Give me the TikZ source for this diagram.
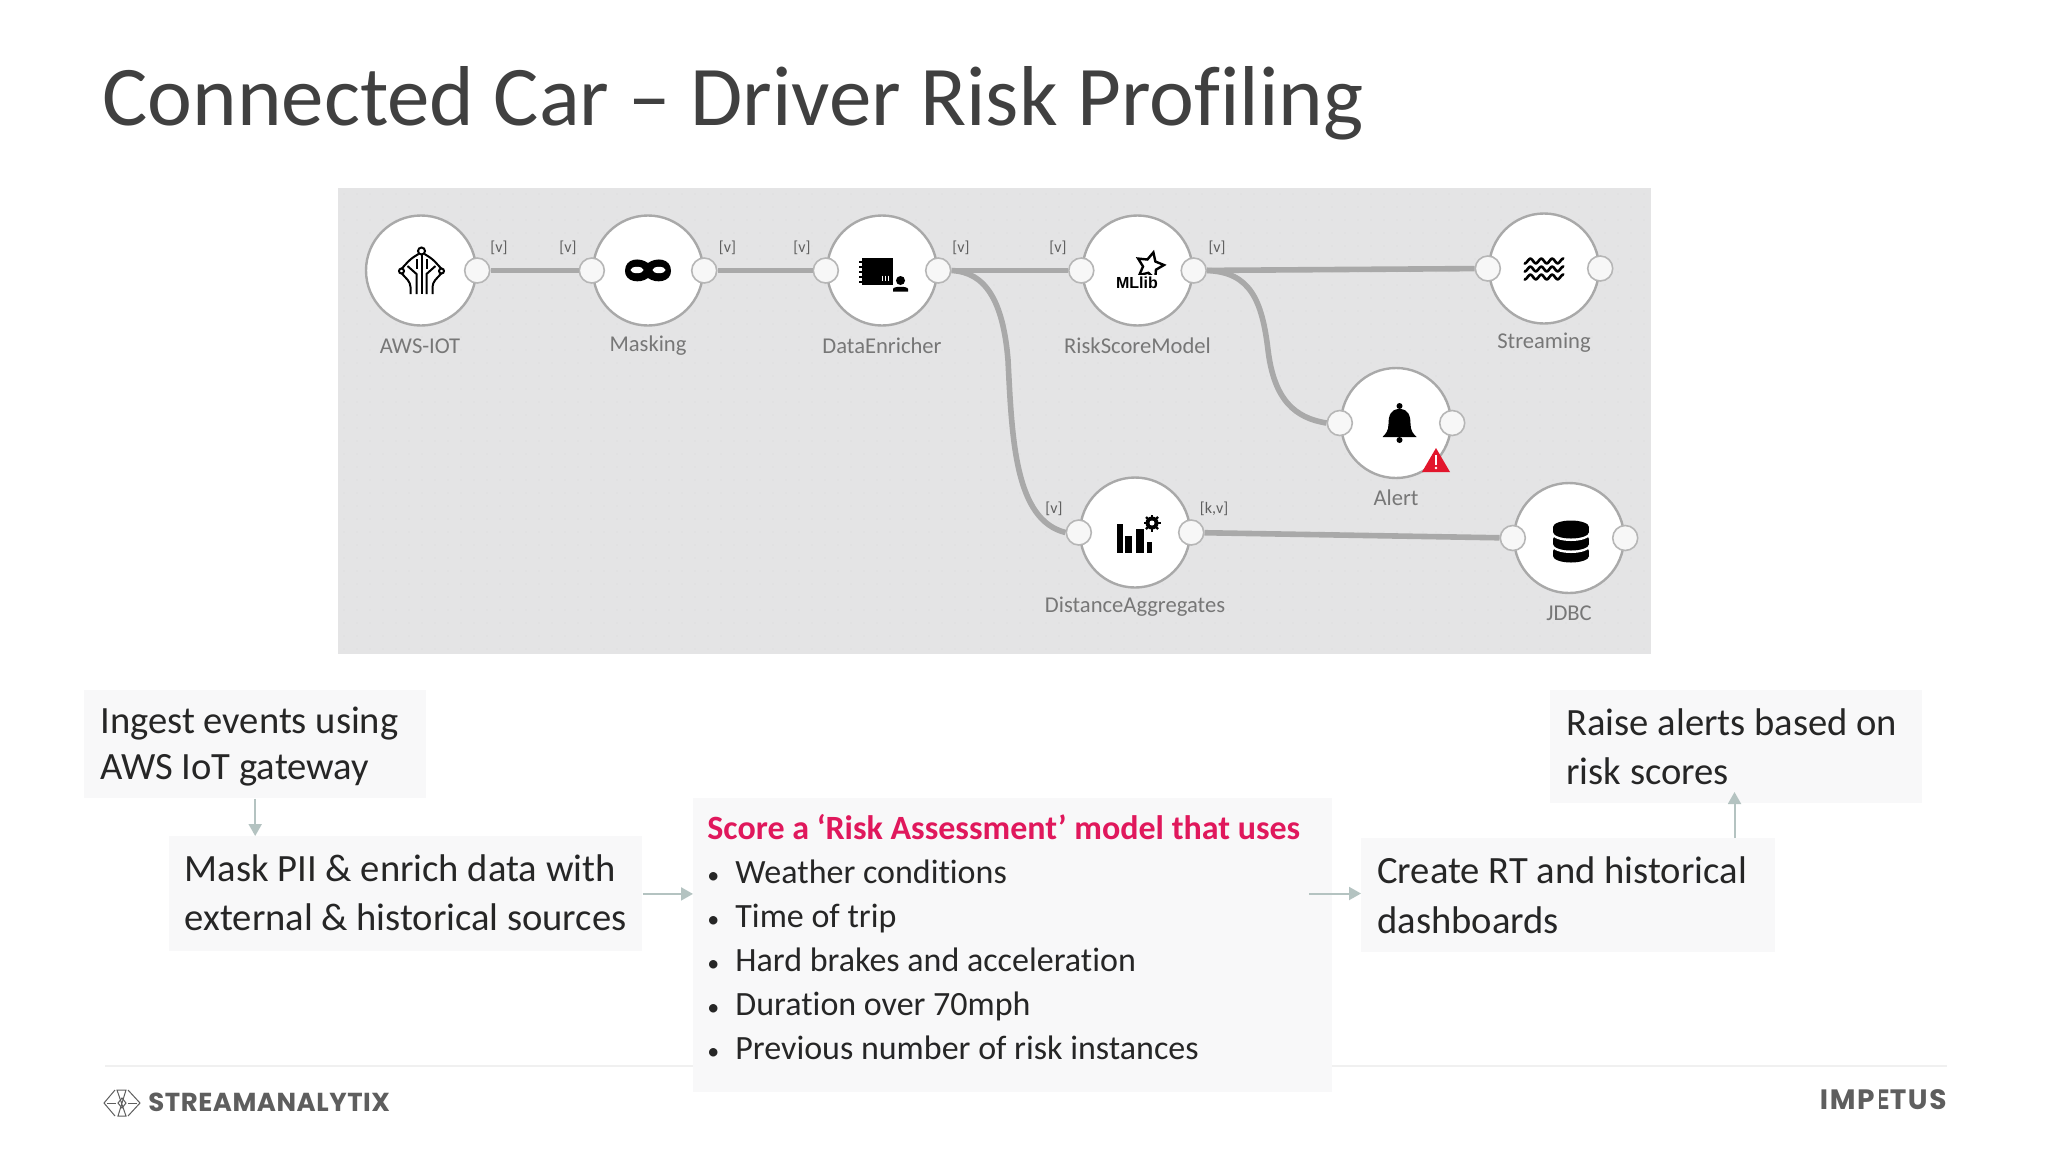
\documentclass[tikz,border=0pt]{standalone}
\usepackage{fontspec}
\usepackage{xcolor}
\usetikzlibrary{arrows.meta,shapes.geometric}
\setmainfont{Carlito}[Ligatures={TeX,NoCommon}]
\newfontfamily\logofont{Poppins}[LetterSpace=2]
\newfontfamily\impetusfont{Poppins}[LetterSpace=6]
\newfontfamily\iconfont{Liberation Sans}
\definecolor{titlegray}{HTML}{404040}
\definecolor{textgray}{HTML}{262626}
\definecolor{panelgray}{HTML}{E4E4E5}
\definecolor{panelspot}{HTML}{DEDEDF}
\definecolor{flowgray}{HTML}{A9A9A9}
\definecolor{labelgray}{HTML}{777777}
\definecolor{boxgray}{HTML}{F8F8F9}
\definecolor{linkgray}{HTML}{B4C3C1}
\definecolor{rulegray}{HTML}{F0F0F0}
\definecolor{scorepink}{HTML}{E0185C}
\definecolor{alertred}{HTML}{E2162C}
\definecolor{logogray}{HTML}{5E5E5E}
\newcommand{\barE}{\setbox0\hbox{E}\rlap{E}\textcolor{white}{\rule[-.5pt]{.3\wd0}{\dimexpr\ht0+1pt\relax}}\kern-.3\wd0\kern\wd0}
\newcommand{\bul}{\makebox[14pt][l]{\fontsize{12}{12}\selectfont •}}

\begin{document}
\begin{tikzpicture}[x=.5pt,y=-.5pt]
\tikzset{stepnode/.style={circle,draw=flowgray,fill=white,line width=1.2pt,minimum size=55pt,inner sep=0pt}}
\tikzset{port/.style={circle,draw=flowgray!85,fill=white!97!black,line width=.8pt,minimum size=12.5pt,inner sep=0pt}}
\tikzset{flow/.style={draw=flowgray,line width=2.8pt}}
\tikzset{steplabel/.style={text=labelgray,font=\fontsize{11.3}{13}\selectfont,inner sep=0pt}}
\tikzset{tag/.style={text=labelgray!80!black,font=\fontsize{8}{9}\selectfont,inner sep=0pt}}
\tikzset{box/.style={anchor=north west,fill=boxgray,text=textgray,align=flush left,inner xsep=8pt,inner ysep=0pt}}
\tikzset{link/.style={draw=linkgray,line width=1pt,-{Triangle[width=6.5pt,length=6pt]}}}

\useasboundingbox (0,0) rectangle (2048,1152);
\fill[white] (0,0) rectangle (2048,1152);

\node[anchor=base west,inner sep=0pt,text=titlegray,font=\fontsize{42.5}{46}\selectfont] (title) at (102,125.5) {Connected Car -- Driver Risk Profiling};

\fill[panelgray] (338,188) rectangle (1651,654);
\foreach \gx in {0,...,100} \foreach \gy in {0,...,35}
  \fill[panelspot] (344+13*\gx,194+13*\gy) circle (.9);

\foreach \nm/\px/\py in {mask/648/270.5,enrich/882/270.5,risk/1137.5/270.5,stream/1544/268.5,alert/1396/423,dist/1135/532.5,jdbc/1569/538} {
  \node[stepnode] (\nm) at (\px,\py) {};
  \node[port] (\nm L) at (\nm.west) {};
  \node[port] (\nm R) at (\nm.east) {};
}
\node[stepnode] (aws) at (421,270.5) {};
\node[port] (awsR) at (aws.east) {};

\draw[flow] (awsR) -- (maskL);
\draw[flow] (maskR) -- (enrichL);
\draw[flow] (enrichR) -- (riskL);
\draw[flow] (riskR) -- (streamL);
\draw[flow] (distR) -- (jdbcL);
\draw[flow] (enrichR.east) .. controls (985,272) and (1003,300) .. (1008,360) .. controls (1012,440) and (1015,520) .. (distL.west);
\draw[flow] (riskR.east) .. controls (1250,272) and (1262,300) .. (1268,350) .. controls (1274,400) and (1295,418) .. (alertL.west);

\node[steplabel] (awsLabel) at (420,346) {AWS-IOT};
\node[steplabel] (maskLabel) at (648,346) {Masking};
\node[steplabel] (enrichLabel) at (882,346) {DataEnricher};
\node[steplabel] (riskLabel) at (1137.5,346) {RiskScoreModel};
\node[steplabel] (streamLabel) at (1544,343) {Streaming};
\node[steplabel] (alertLabel) at (1396,498) {Alert};
\node[steplabel] (distLabel) at (1135,607) {DistanceAggregates};
\node[steplabel] (jdbcLabel) at (1569,613) {JDBC};

\foreach \tx/\ty [count=\tn] in {499/248,568/248,727.5/248,802/248,961/248,1058/248,1217/248,1054/509}
  \node[tag] (tag\tn) at (\tx,\ty) {[v]};
\node[tag] (tagkv) at (1214,509) {[k,v]};

\begin{scope}[shift={(421.5,271)},draw=black,line width=1pt]
\foreach \sd in {-1,1} {
  \draw[rounded corners=2pt] (\sd*3,-17) -- (\sd*11,-12) -- (\sd*22,0) -- (\sd*11,12) -- (\sd*11,23);
  \draw (\sd*5,23) -- (\sd*5,3) -- (\sd*14,-5);
  \draw (\sd*5,-2) -- (\sd*5,-12);
  \fill[white] (\sd*20,0) circle (2.5);
  \draw (\sd*20,0) circle (2.5);
}
\draw (0,-16) -- (0,23);
\fill[white] (0,-20) circle (3.5);
\draw (0,-20) circle (3.5);
\end{scope}

\begin{scope}[shift={(648,271)}]
\fill[black] (-23,0) .. controls (-23,-13) and (-8,-14) .. (0,-8) .. controls (8,-14) and (23,-13) .. (23,0) .. controls (23,11) and (8,13) .. (0,7) .. controls (-8,13) and (-23,11) .. (-23,0) -- cycle;
\fill[white] (-11,-1) ellipse (6.5 and 3.2);
\fill[white] (11,-1) ellipse (6.5 and 3.2);
\end{scope}

\begin{scope}[shift={(882,270.5)}]
\fill[black] (-20,-13) rectangle (11,14);
\foreach \py in {-9,-4,1,6,11}
  \draw[black,line width=1pt] (-23,\py) -- (-20,\py);
\foreach \px in {0,3,6}
  \draw[white,line width=.5pt] (\px,5) -- (\px,10);
\fill[white] (18.5,10) circle (6);
\fill[white] (9,15) rectangle (28,23);
\fill[black] (18.5,10) circle (4.5);
\fill[black] (11,21) -- (11,18.5) .. controls (11,15.5) and (26,15.5) .. (26,18.5) -- (26,21) -- cycle;
\end{scope}

\node[star,star points=5,star point ratio=2,draw=black,line width=1.2pt,minimum size=14pt,inner sep=0pt,rotate=-14] (riskStar) at (1150,266) {};
\fill[white] (1116,275) rectangle (1159,291);
\node[inner sep=0pt,font=\iconfont\bfseries\fontsize{8}{9}\selectfont] (riskIcon) at (1137,283) {MLlib};

\begin{scope}[shift={(1544,269)}]
\foreach \wy in {-8,0,8}
  \draw[black,line width=1.3pt] plot[domain=-20:20,samples=60,smooth] (\x,{\wy+2.3*sin(\x*33)});
\end{scope}

\begin{scope}[shift={(1399.5,425)}]
\fill[black] (0,-19) circle (3);
\fill[black] (0,-16) .. controls (9,-16) and (11,-9) .. (11,-1) .. controls (11,6) and (14,9) .. (17,12) -- (-17,12) .. controls (-14,9) and (-11,6) .. (-11,-1) .. controls (-11,-9) and (-9,-16) .. (0,-16) -- cycle;
\fill[black] (0,15) circle (3);
\end{scope}
\fill[alertred] (1436,448) -- (1450,472) -- (1422,472) -- cycle;
\fill[white] (1434.8,455) rectangle (1437.2,465);
\fill[white] (1436,468) circle (1.4);

\begin{scope}[shift={(1135,532)}]
\fill[black] (-18,-8) rectangle (-12,21);
\fill[black] (-10,4) rectangle (-3,21);
\fill[black] (1,-3) rectangle (9,21);
\fill[black] (12,10) rectangle (17,21);
\foreach \ga in {0,45,...,315}
  \draw[black,line width=1.2pt] (17,-9) -- ++(\ga:8.5);
\fill[black] (17,-9) circle (6.5);
\fill[white] (17,-9) circle (2.5);
\end{scope}

\begin{scope}[shift={(1571,539)}]
\foreach \dy in {12,0,-12} {
  \fill[white] (0,\dy+7) ellipse (19 and 7);
  \fill[black] (0,\dy+5) ellipse (18 and 6.5);
  \fill[black] (-18,\dy) rectangle (18,\dy+5);
  \fill[black] (0,\dy) ellipse (18 and 6.5);
}
\end{scope}

\draw[rulegray,line width=1pt] (105,1066) -- (1947,1066);

\node[box,font=\fontsize{19.3}{23}\selectfont,text width=154.8pt,minimum height=54pt] (ingest) at (84,690) {\rule{0pt}{15pt}Ingest events using\\AWS IoT gateway};
\node[box,font=\fontsize{19.3}{24.5}\selectfont,text width=220.8pt,minimum height=57.5pt] (maskbox) at (168.4,836) {Mask PII \& enrich data with\\external \& historical sources\rule[-1.5pt]{0pt}{1pt}};
\node[box,font=\fontsize{17}{22}\selectfont,text width=305.5pt,inner xsep=7pt,inner ysep=8pt] (score) at (693,798) {\parbox[t][131pt][t]{305.5pt}{\raggedright\textcolor{scorepink}{\bfseries Score a ‘Risk Assessment’ model that uses}\\
\bul Weather conditions\\
\bul Time of trip\\
\bul Hard brakes and acceleration\\
\bul Duration over 70mph\\
\bul Previous number of risk instances}};
\node[box,font=\fontsize{19.3}{25}\selectfont,text width=191pt,minimum height=57pt] (dash) at (1361,838) {Create RT and historical\\dashboards};
\node[box,font=\fontsize{19.3}{24.5}\selectfont,text width=170pt,minimum height=56.5pt] (raise) at (1550,690) {Raise alerts based on\\risk scores};

\coordinate (scoreOut) at (1309,893.5);
\coordinate (raiseIn) at (1734.5,792);
\draw[link] (ingest.south) -- (ingest.south |- maskbox.north);
\draw[link] (maskbox.east) -- (score.west |- maskbox.east);
\draw[link] (scoreOut) -- (scoreOut -| dash.west);
\draw[link] (raiseIn |- dash.north) -- (raiseIn);

\begin{scope}[draw=logogray,line width=.5pt]
\draw (115,1090) -- (104,1103) -- (115,1116);
\draw (128,1090) -- (140,1103) -- (128,1116);
\draw (117,1090) -- (126,1090) -- (118,1116) -- (126,1116) -- cycle;
\draw (122,1098) -- (126,1103) -- (122,1108) -- (118,1103) -- cycle;
\draw (107,1103) -- (116,1103);
\draw (128,1103) -- (137,1103);
\end{scope}
\node[anchor=base west,inner sep=0pt,text=logogray,font=\logofont\bfseries\fontsize{13}{15}\selectfont] (streamlogo) at (148,1111) {STREAMANALYTIX};
\node[anchor=base east,inner sep=0pt,text=logogray,font=\impetusfont\bfseries\fontsize{14}{16}\selectfont] (impetuslogo) at (1947,1109) {IMP\barE TUS};
\end{tikzpicture}
\end{document}
